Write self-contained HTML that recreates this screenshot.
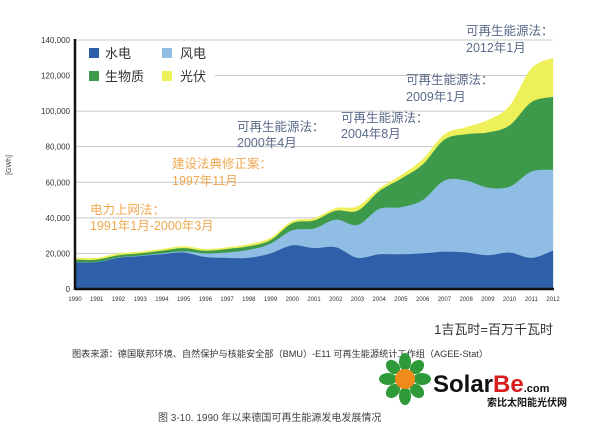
<!DOCTYPE html>
<html><head><meta charset="utf-8"><style>
html,body{margin:0;padding:0;background:#fff;}
body{width:600px;height:434px;overflow:hidden;font-family:"Liberation Sans","Noto Sans CJK SC",sans-serif;}
</style></head><body>
<svg id="s" width="600" height="434" xmlns="http://www.w3.org/2000/svg" font-family="Liberation Sans, Noto Sans CJK SC, sans-serif">
<rect width="600" height="434" fill="#fff"/>
<g id="grid" stroke="#c8c8c8" stroke-width="1"></g>
<g id="areas"></g>
<line x1="75" y1="39" x2="75" y2="290" stroke="#111" stroke-width="2.5"/>
<line x1="75" y1="289" x2="554" y2="289" stroke="#111" stroke-width="2.5"/>
<g id="ylab" font-size="8" fill="#333" text-anchor="end"></g>
<g id="xlab" font-size="6" fill="#333" text-anchor="middle"></g>
<text x="11" y="165" font-size="7" fill="#444" transform="rotate(-90 11 165)" text-anchor="middle">[GWh]</text>
<rect x="89" y="48" width="10" height="10" fill="#2f5fa8"/><text x="105" y="58" font-size="13" fill="#333">水电</text>
<rect x="162" y="48" width="10" height="10" fill="#8fbde3"/><text x="180" y="58" font-size="13" fill="#333">风电</text>
<rect x="89" y="71" width="10" height="10" fill="#3c9a4a"/><text x="105" y="81" font-size="13" fill="#333">生物质</text>
<rect x="162" y="71" width="10" height="10" fill="#eef05a"/><text x="180" y="81" font-size="13" fill="#333">光伏</text>
<g font-size="12.5" fill="#5a6a8a">
<text x="466" y="35">可再生能源法：</text><text x="466" y="52">2012年1月</text>
<text x="406" y="84">可再生能源法：</text><text x="406" y="101">2009年1月</text>
<text x="341" y="122">可再生能源法：</text><text x="341" y="138">2004年8月</text>
<text x="237" y="131">可再生能源法：</text><text x="237" y="147">2000年4月</text>
</g>
<g font-size="12.5" fill="#f0a850">
<text x="172" y="168">建设法典修正案：</text><text x="172" y="185">1997年11月</text>
<text x="90" y="214">电力上网法：</text><text x="90" y="230">1991年1月-2000年3月</text>
</g>
<text x="553" y="334" font-size="13" fill="#333" text-anchor="end">1吉瓦时=百万千瓦时</text>
<text x="72" y="357" font-size="9" fill="#333" textLength="416" lengthAdjust="spacingAndGlyphs">图表来源：德国联邦环境、自然保护与核能安全部（BMU）-E11 可再生能源统计工作组（AGEE-Stat）</text>
<text x="158" y="421" font-size="10" fill="#444">图 3-10. 1990 年以来德国可再生能源发电发展情况</text>
<g transform="translate(405,379)">
<g fill="#2e9a3a">
<ellipse cx="0" cy="-17" rx="6" ry="9"/><ellipse cx="0" cy="17" rx="6" ry="9"/>
<ellipse cx="-17" cy="0" rx="9" ry="6"/><ellipse cx="17" cy="0" rx="9" ry="6"/>
<ellipse cx="-12" cy="-12" rx="6" ry="8" transform="rotate(-45 -12 -12)"/><ellipse cx="12" cy="12" rx="6" ry="8" transform="rotate(-45 12 12)"/>
<ellipse cx="12" cy="-12" rx="6" ry="8" transform="rotate(45 12 -12)"/><ellipse cx="-12" cy="12" rx="6" ry="8" transform="rotate(45 -12 12)"/>
</g>
<circle r="10" fill="#f08a1a"/>
</g>
<text x="433" y="392" font-size="24" font-weight="bold" fill="#111">Solar<tspan fill="#d81e1e">Be</tspan><tspan font-size="11">.com</tspan></text>
<text x="487" y="406" font-size="10" font-weight="bold" fill="#111">索比太阳能光伏网</text>
</svg>
<script>
var X=function(i){return 75+i*21.73;},Y=function(v){return 289-v*0.001779;};
var h=[15000,15000,17500,18500,19500,20500,18000,17500,17500,20000,24500,23000,23500,17500,19500,19500,20000,21000,20500,19000,20500,17500,21500];
var w=[15100,15200,17700,18800,20000,21200,20000,20500,22000,25500,33000,34000,39000,36000,45000,46000,50000,61000,61000,57000,57500,66000,67000];
var b=[16500,16500,19000,20000,21500,23000,21500,22500,24000,27500,37000,38500,44000,44000,55000,62000,70000,84000,87000,88000,92000,105000,108000];
var s=[17500,17500,20000,21000,22500,24000,22500,23500,25200,28800,38200,39800,45500,46500,56500,64000,73000,87000,91000,95000,103000,124000,130000];
function path(a){var p=a.map(function(v,i){return [X(i),Y(v)];});var d="M75,289 L"+p[0][0]+","+p[0][1];
for(var i=0;i<p.length-1;i++){var p0=p[Math.max(i-1,0)],p1=p[i],p2=p[i+1],p3=p[Math.min(i+2,p.length-1)];
var c1=[p1[0]+(p2[0]-p0[0])/6,p1[1]+(p2[1]-p0[1])/6],c2=[p2[0]-(p3[0]-p1[0])/6,p2[1]-(p3[1]-p1[1])/6];
d+=" C"+c1[0].toFixed(1)+","+c1[1].toFixed(1)+" "+c2[0].toFixed(1)+","+c2[1].toFixed(1)+" "+p2[0].toFixed(1)+","+p2[1].toFixed(1);}
return d+" L"+X(22)+",289Z";}
var g=document.getElementById("areas"),ns="http://www.w3.org/2000/svg";
[[s,"#eef05a"],[b,"#3c9a4a"],[w,"#8fbde3"],[h,"#2f5fa8"]].forEach(function(p){var e=document.createElementNS(ns,"path");e.setAttribute("d",path(p[0]));e.setAttribute("fill",p[1]);g.appendChild(e);});
var gr=document.getElementById("grid"),yl=document.getElementById("ylab"),xl=document.getElementById("xlab");
for(var k=0;k<=7;k++){var v=k*20000,y=Y(v);
 if(k>0){var l=document.createElementNS(ns,"line");l.setAttribute("x1",k==6?215:75);l.setAttribute("x2",553);l.setAttribute("y1",y);l.setAttribute("y2",y);gr.appendChild(l);}
 var t=document.createElementNS(ns,"text");t.setAttribute("x",70);t.setAttribute("y",y+3);t.textContent=v==0?"0":(v/1000)+",000";yl.appendChild(t);}
for(var i=0;i<23;i++){var t=document.createElementNS(ns,"text");t.setAttribute("x",X(i));t.setAttribute("y",301);t.textContent=1990+i;xl.appendChild(t);}
</script>
</body></html>
